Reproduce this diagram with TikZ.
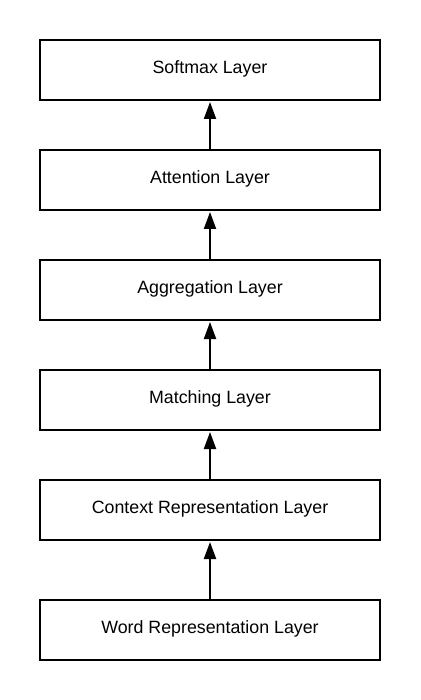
\documentclass[tikz,border=0pt]{standalone}
\usepackage{fontspec}
\setmainfont{Liberation Sans}
\usetikzlibrary{arrows.meta}
\begin{document}
\begin{tikzpicture}[x=1pt,y=-1pt,
  layerbox/.style={draw=black, line width=2pt, fill=white, rectangle,
    minimum width=340pt, minimum height=60pt, inner sep=0pt,
    text height=13pt, text depth=6.4pt,
    font=\fontsize{17.8pt}{20pt}\selectfont},
  uparrow/.style={line width=2pt, -{Triangle[width=12pt,length=17pt]}, shorten >=1pt}]
\useasboundingbox (0,0) rectangle (420,700);
\node[layerbox] (soft) at (210,70) {Softmax Layer};
\node[layerbox] (att) at (210,180) {Attention Layer};
\node[layerbox] (agg) at (210,290) {Aggregation Layer};
\node[layerbox] (match) at (210,400) {Matching Layer};
\node[layerbox] (ctx) at (210,510) {Context Representation Layer};
\node[layerbox] (word) at (210,630) {Word Representation Layer};
\draw[uparrow] (att) -- (soft);
\draw[uparrow] (agg) -- (att);
\draw[uparrow] (match) -- (agg);
\draw[uparrow] (ctx) -- (match);
\draw[uparrow] (word) -- (ctx);
\end{tikzpicture}
\end{document}
